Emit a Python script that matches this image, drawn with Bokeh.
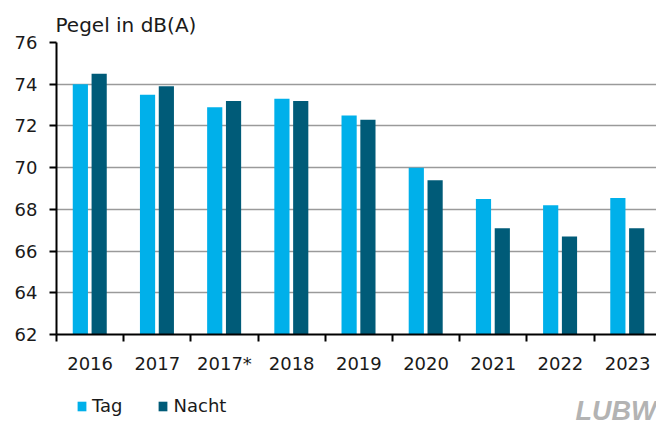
from bokeh.plotting import figure
from bokeh.layouts import column
from bokeh.models import (ColumnDataSource, Range1d, FixedTicker, Legend, LegendItem,
                          Title, Label)
from bokeh.transform import dodge
from bokeh.embed import file_html
from bokeh.resources import INLINE

years = ["2016", "2017", "2017*", "2018", "2019", "2020", "2021", "2022", "2023"]
tag = [74.0, 73.5, 72.9, 73.3, 72.5, 70.0, 68.5, 68.2, 68.55]
nacht = [74.5, 73.9, 73.2, 73.2, 72.3, 69.4, 67.1, 66.7, 67.1]
y_ticks = [62, 64, 66, 68, 70, 72, 74, 76]
series_names = ["Tag", "Nacht"]

TAG_COLOR = "#00B0EA"
NACHT_COLOR = "#005B78"
FONT = "DejaVu Sans"

centers = [i + 0.5 for i in range(len(years))]
src = ColumnDataSource(dict(x=centers, tag=tag, nacht=nacht, year=years))

p = figure(width=656, height=376, output_backend="svg", toolbar_location=None,
           x_range=Range1d(0, 8.93), y_range=Range1d(62, 76),
           min_border_left=56, min_border_right=0, min_border_top=42,
           min_border_bottom=42)
p.outline_line_color = None
p.background_fill_color = "white"
p.border_fill_color = "white"

p.vbar(x=dodge("x", -0.145, range=p.x_range), top="tag", bottom=62,
       width=0.226, source=src, fill_color=TAG_COLOR, line_color=None)
p.vbar(x=dodge("x", 0.135, range=p.x_range), top="nacht", bottom=62,
       width=0.226, source=src, fill_color=NACHT_COLOR, line_color=None)

p.title = Title(text="Pegel in dB(A)", align="left", text_font=FONT,
                text_font_size="20px", text_font_style="normal",
                text_color="#1a1a1a", offset=-1, standoff=12)

# x axis: labels at centers, tick marks at category boundaries
p.xaxis.ticker = FixedTicker(ticks=centers, minor_ticks=list(range(len(years) + 1)))
p.xaxis.major_label_overrides = {c: y for c, y in zip(centers, years)}
p.xaxis.major_tick_out = 0
p.xaxis.major_tick_in = 0
p.xaxis.minor_tick_out = 7
p.xaxis.minor_tick_in = 0
p.xaxis.minor_tick_line_color = "black"
p.xaxis.minor_tick_line_width = 2
p.xaxis.axis_line_color = "black"
p.xaxis.axis_line_width = 2
p.xaxis.major_label_text_font = FONT
p.xaxis.major_label_text_font_size = "18px"
p.xaxis.major_label_text_color = "#1a1a1a"
p.xaxis.major_label_standoff = 11

p.yaxis.ticker = FixedTicker(ticks=y_ticks)
p.yaxis.minor_tick_line_color = None
p.yaxis.major_tick_out = 7
p.yaxis.major_tick_in = 0
p.yaxis.major_tick_line_width = 2
p.yaxis.major_tick_line_color = "black"
p.yaxis.axis_line_width = 2
p.yaxis.axis_line_color = "black"
p.yaxis.major_label_text_font = FONT
p.yaxis.major_label_text_font_size = "18px"
p.yaxis.major_label_text_color = "#1a1a1a"
p.yaxis.major_label_standoff = 12

p.xgrid.grid_line_color = None
p.ygrid.grid_line_color = "#9a9a9a"
p.ygrid.grid_line_width = 1.5

# footer figure: legend + logo (its frame is aligned with the chart frame: 56..656 px)
f = figure(width=656, height=49, output_backend="svg", toolbar_location=None,
           x_range=Range1d(0, 600), y_range=Range1d(0, 49),
           x_axis_location=None, y_axis_location=None,
           min_border=0, outline_line_color=None)
f.grid.visible = False
f.background_fill_color = "white"
f.border_fill_color = "white"
# legend proxies, placed outside the visible range
proxy = ColumnDataSource(dict(x=[-1000], top=[-1000]))
lt = f.vbar(x="x", top="top", width=1, source=proxy, fill_color=TAG_COLOR, line_color=None)
ln = f.vbar(x="x", top="top", width=1, source=proxy, fill_color=NACHT_COLOR, line_color=None)

legend = Legend(items=[LegendItem(label=series_names[0], renderers=[lt]),
                       LegendItem(label=series_names[1], renderers=[ln])],
                location=(20, 9), orientation="horizontal",
                glyph_width=11, glyph_height=12, label_standoff=5, spacing=35,
                padding=0, margin=0, border_line_color=None,
                background_fill_alpha=0,
                label_text_font=FONT, label_text_font_size="18px",
                label_text_color="#1a1a1a")
f.add_layout(legend, "center")

logo = Label(x=519, y=30, text="LUBW", text_font="Liberation Sans",
             text_font_style="bold italic", text_font_size="27px",
             text_color="#b3b3b3", text_baseline="top")
f.add_layout(logo)

layout = column(p, f, spacing=0)
open("out.html", "w").write(file_html(layout, INLINE))
